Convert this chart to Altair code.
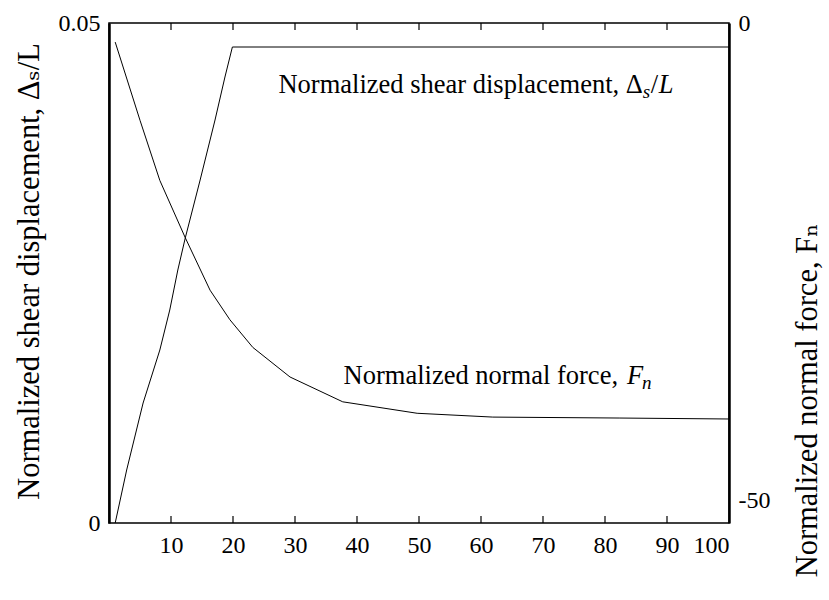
import altair as alt
import pandas as pd

# Normalized shear displacement (left axis)
x_shear = [1, 2.85, 5.5, 8.2, 9.8, 11.1, 12.3, 14.7, 17.1, 18.7, 19.9, 100]
shear = [0.0, 0.0053, 0.0120, 0.0173, 0.0213, 0.0253, 0.0285, 0.0343, 0.0403, 0.0446, 0.0476, 0.0476]

# Normalized normal force (right axis)
x_force = [1, 5, 8.2, 12.3, 16.3, 19.5, 23.2, 29.2, 37.7, 49.7, 61.9, 82.4, 100]
force = [-2.0, -10.2, -16.5, -22.5, -28.0, -31.1, -34.0, -37.1, -39.7, -40.9, -41.3, -41.4, -41.5]

x_tick_labels = [10, 20, 30, 40, 50, 60, 70, 80, 90, 100]
x_tick_marks = [10, 20, 30, 40, 50, 60, 70, 80, 90]
left_ticks = [0, 0.05]
right_ticks = [-50, 0]

# in-plot annotations (anchor in data units)
shear_note_main = ["Normalized shear displacement, \u0394"]
shear_note_x = [86.1]
shear_note_y = [0.0430]
force_note_main = ["Normalized normal force,"]
force_note_x = [82.1]
force_note_y = [-37.8]

FONT = "Liberation Serif, DejaVu Serif, serif"
W, H = 620, 500
TICK_FS = 24
TITLE_FS = 30.5
NOTE_FS = 26.5
SUB_FS = 19

xscale = alt.Scale(domain=[0, 100], nice=False, zero=False)
sy = alt.Scale(domain=[0, 0.05], nice=False, zero=False)
fy = alt.Scale(domain=[-52.4, 0], nice=False, zero=False)

df_s = pd.DataFrame({"x": x_shear, "s": shear})
df_f = pd.DataFrame({"x": x_force, "f": force})
df_sn = pd.DataFrame({"x": shear_note_x, "s": shear_note_y, "t": shear_note_main})
df_fn = pd.DataFrame({"x": force_note_x, "f": force_note_y, "t": force_note_main})
df_t = pd.DataFrame({"x": x_tick_marks})

x_bottom_axis = alt.Axis(
    values=x_tick_labels, title=None, grid=False, domain=False, ticks=False,
    labelFont=FONT, labelFontSize=TICK_FS, labelColor="black", labelPadding=10)

s_axis = alt.Axis(
    values=left_ticks, format="~g", ticks=False, grid=False,
    domain=True, domainColor="black", domainWidth=2.5,
    labelFont=FONT, labelFontSize=TICK_FS, labelColor="black", labelPadding=9,
    title="Normalized shear displacement, \u0394\u209b/L",
    titleFont=FONT, titleFontSize=TITLE_FS, titleFontWeight="normal",
    titleColor="black", titleAngle=270, titleX=-80, titleY=248,
    titleAlign="center", titleBaseline="middle")

f_axis = alt.Axis(
    orient="right", values=right_ticks, ticks=False, grid=False,
    labelExpr="datum.value < 0 ? '-' + abs(datum.value) : '' + datum.value",
    domain=True, domainColor="black", domainWidth=2.5,
    labelFont=FONT, labelFontSize=TICK_FS, labelColor="black", labelPadding=9,
    title="Normalized normal force, F\u2099",
    titleFont=FONT, titleFontSize=TITLE_FS, titleFontWeight="normal",
    titleColor="black", titleAngle=270, titleX=78, titleY=377,
    titleAlign="center", titleBaseline="middle")

XB = alt.X("x:Q", scale=xscale, axis=x_bottom_axis)
XN = alt.X("x:Q", scale=xscale, axis=None)
YS = alt.Y("s:Q", scale=sy, axis=s_axis)
YF = alt.Y("f:Q", scale=fy, axis=f_axis)


def note_piece(df, X, Y, text, dx=0, dy=0, size=NOTE_FS, italic=False, align="left"):
    mk = dict(align=align, baseline="alphabetic", font=FONT, fontSize=size,
              color="black", dx=dx, dy=dy)
    if italic:
        mk["fontStyle"] = "italic"
    enc = dict(x=X, y=Y)
    if text is None:
        enc["text"] = "t:N"
    else:
        enc["text"] = alt.value(text)
    return alt.Chart(df).mark_text(**mk).encode(**enc)


shear_line = alt.Chart(df_s).mark_line(color="black", strokeWidth=1).encode(x=XB, y=YS)
shear_notes = [
    note_piece(df_sn, XB, YS, None, align="right"),
    note_piece(df_sn, XB, YS, "s", dx=0, dy=5, size=SUB_FS, italic=True),
    note_piece(df_sn, XB, YS, "/", dx=8),
    note_piece(df_sn, XB, YS, "L", dx=16, italic=True),
]

# inward tick marks on bottom and top frame
bottom_ticks = alt.Chart(df_t).mark_tick(
    color="black", orient="vertical", size=7, thickness=1.2, opacity=1
).encode(x=XB, y=alt.value(H - 3.5))
top_ticks = alt.Chart(df_t).mark_tick(
    color="black", orient="vertical", size=7, thickness=1.2, opacity=1
).encode(x=XB, y=alt.value(3.5))

force_line = alt.Chart(df_f).mark_line(color="black", strokeWidth=1).encode(x=XN, y=YF)
force_notes = [
    note_piece(df_fn, XN, YF, None, align="right"),
    note_piece(df_fn, XN, YF, "F", dx=9, italic=True),
    note_piece(df_fn, XN, YF, "n", dx=24, dy=5, size=SUB_FS, italic=True),
]

chart = alt.layer(
    alt.layer(shear_line, bottom_ticks, top_ticks, *shear_notes),
    alt.layer(force_line, *force_notes),
).resolve_scale(y="independent").resolve_axis(x="independent").properties(
    width=W, height=H,
    autosize=alt.AutoSizeParams(type="none"),
    padding={"left": 109, "top": 23, "right": 100, "bottom": 77},
    background="white",
).configure_view(stroke="black", strokeWidth=1.5)

chart.save("out.html", embed_options={"renderer": "svg", "actions": False})
